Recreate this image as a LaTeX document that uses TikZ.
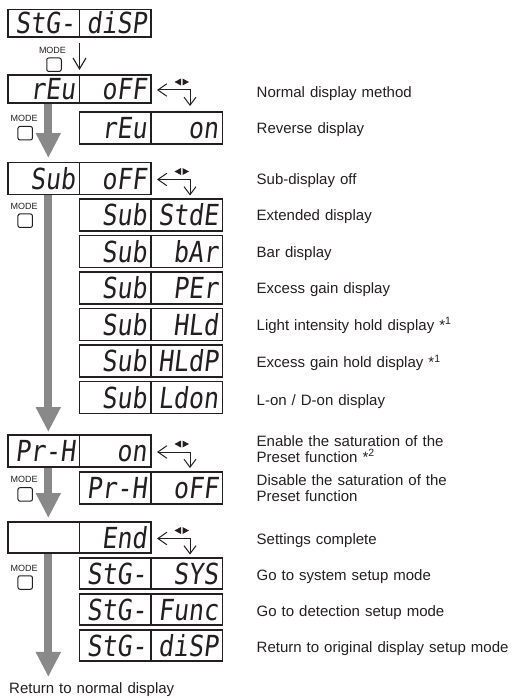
\documentclass[tikz,border=0pt]{standalone}
\usepackage{fontspec}
\setmainfont{Liberation Sans}
\newfontfamily\lcd{DejaVu Sans Mono}[FakeSlant=0.12,FakeStretch=0.86]
\usetikzlibrary{arrows.meta,positioning}
\definecolor{Ink}{HTML}{231F20}
\definecolor{Shaft}{HTML}{898989}

\begin{document}
\begin{tikzpicture}[
    x=1pt, y=-1pt,
    node distance=4.5pt and 0pt,
    seg/.style={
      draw=Ink, line width=1.1pt, outer sep=0pt,
      minimum width=71.5pt, minimum height=32pt,
      text width=63pt, align=right, inner xsep=4.25pt, inner ysep=0pt,
      text height=21pt, text depth=0pt, text=Ink,
      font=\lcd\fontsize{29}{30}\selectfont
    },
    lbl/.style={
      anchor=base west, inner sep=0pt, text width=300pt, align=left,
      text=Ink, font=\fontsize{15}{16.2}\selectfont
    },
    modetxt/.style={inner sep=0pt, text height=6.5pt, text depth=0pt, text=Ink, font=\fontsize{9}{9}\selectfont},
    modebtn/.style={draw=Ink, line width=1pt, rounded corners=2pt, minimum width=14.5pt, minimum height=13.5pt, inner sep=0pt},
    modearr/.style={draw=Shaft, line width=8pt, shorten <=0.6pt, -{Triangle[length=25pt,width=23.5pt]}},
    nextarr/.style={draw=Ink, line width=1.1pt, -{Straight Barb[length=11pt,width=13pt]}},
    selmark/.pic={
      \draw[Ink, line width=1pt, {Straight Barb[length=9pt,width=12.5pt]}-{Straight Barb[length=8pt,width=12pt]}]
        (6,1) -- (39,1) -- (39,17);
      \fill[Ink] (23.5,-7) -- (30,-10.5) -- (30,-3.5) -- cycle;
      \fill[Ink] (38,-7) -- (31.5,-10.5) -- (31.5,-3.5) -- cycle;
    }
  ]
    \useasboundingbox (0,0) rectangle (511,698);
    \coordinate (spine) at (48.3,0);

    \node[seg, minimum height=27.5pt, anchor=north west] (r1L) at (8,9.5) {StG-};
    \node[seg, minimum height=27.5pt, right=of r1L] (r1R) {diSP};

    \node[seg, minimum height=28pt, anchor=north west] (r2L) at (8,75) {rEu};
    \node[seg, minimum height=28pt, right=of r2L] (r2R) {oFF};
    \node[seg, below=9pt of r2R] (s2L) {rEu};
    \node[seg, right=of s2L] (s2R) {on};

    \node[seg, anchor=north west] (r3L) at (8,162.5) {Sub};
    \node[seg, right=of r3L] (r3R) {oFF};
    \node[seg, below=of r3R] (s3aL) {Sub};
    \node[seg, right=of s3aL] (s3aR) {StdE};
    \node[seg, below=of s3aL] (s3bL) {Sub};
    \node[seg, right=of s3bL] (s3bR) {bAr};
    \node[seg, below=of s3bL] (s3cL) {Sub};
    \node[seg, right=of s3cL] (s3cR) {PEr};
    \node[seg, below=of s3cL] (s3dL) {Sub};
    \node[seg, right=of s3dL] (s3dR) {HLd};
    \node[seg, below=of s3dL] (s3eL) {Sub};
    \node[seg, right=of s3eL] (s3eR) {HLdP};
    \node[seg, below=of s3eL] (s3fL) {Sub};
    \node[seg, right=of s3fL] (s3fR) {Ldon};

    \node[seg, anchor=north west] (r4L) at (8,435) {\mbox{Pr-H}};
    \node[seg, right=of r4L] (r4R) {on};
    \node[seg, below=5pt of r4R] (s4L) {\mbox{Pr-H}};
    \node[seg, right=of s4L] (s4R) {oFF};

    \node[seg, minimum height=31pt, anchor=north west] (r5L) at (8,522) {};
    \node[seg, minimum height=31pt, right=of r5L] (r5R) {End};
    \node[seg, minimum height=31pt, below=5pt of r5R] (s5aL) {StG-};
    \node[seg, minimum height=31pt, right=of s5aL] (s5aR) {SYS};
    \node[seg, minimum height=31pt, below=5pt of s5aL] (s5bL) {StG-};
    \node[seg, minimum height=31pt, right=of s5bL] (s5bR) {Func};
    \node[seg, minimum height=31pt, below=5pt of s5bL] (s5cL) {StG-};
    \node[seg, minimum height=31pt, right=of s5cL] (s5cR) {diSP};

    \node[modetxt] (m1) at (52.5,50) {MODE};
    \node[modebtn, below=4pt of m1, xshift=1.5pt] (b1) {};
    \node[modetxt] (m2) at (24.2,118.5) {MODE};
    \node[modebtn, below=4pt of m2, xshift=1pt] (b2) {};
    \node[modetxt] (m3) at (24.2,206) {MODE};
    \node[modebtn, below=4pt of m3, xshift=1pt] (b3) {};
    \node[modetxt] (m4) at (24.2,479.7) {MODE};
    \node[modebtn, below=4pt of m4, xshift=1pt] (b4) {};
    \node[modetxt] (m5) at (24.2,567.8) {MODE};
    \node[modebtn, below=4pt of m5, xshift=1pt] (b5) {};

    \pic at (r2R.east) {selmark};
    \pic at (r3R.east) {selmark};
    \pic at (r4R.east) {selmark};
    \pic at (r5R.east) {selmark};

    \node[lbl] (t2) at (256.5,97.3) {Normal display method};
    \node[lbl] (t2s) at (256.5,133.3) {Reverse display};
    \node[lbl] (t3) at (256.5,184) {Sub-display off};
    \node[lbl] (t3a) at (256.5,220.7) {Extended display};
    \node[lbl] (t3b) at (256.5,257.3) {Bar display};
    \node[lbl] (t3c) at (256.5,293.3) {Excess gain display};
    \node[lbl] (t3d) at (256.5,330) {Light intensity hold display *\textsuperscript{1}};
    \node[lbl] (t3e) at (256.5,367.3) {Excess gain hold display *\textsuperscript{1}};
    \node[lbl] (t3f) at (256.5,405) {L-on / D-on display};
    \node[lbl] (t4) at (256.5,446) {Enable the saturation of the\\Preset function *\textsuperscript{2}};
    \node[lbl] (t4s) at (256.5,485) {Disable the saturation of the\\Preset function};
    \node[lbl] (t5) at (256.5,544) {Settings complete};
    \node[lbl] (t5a) at (256.5,580.7) {Go to system setup mode};
    \node[lbl] (t5b) at (256.5,616.7) {Go to detection setup mode};
    \node[lbl] (t5c) at (256.5,652.7) {Return to original display setup mode};
    \node[lbl] (retn) at (9,693.5) {Return to normal display};

    \draw[nextarr, shorten <=6pt, shorten >=5pt] (r1L.south east) -- (r2L.north east);
    \draw[modearr, shorten >=4.5pt] (r2L.south -| spine) -- (r3L.north -| spine);
    \draw[modearr, shorten >=3pt] (r3L.south -| spine) -- (r4L.north -| spine);
    \draw[modearr, shorten >=4pt] (r4L.south -| spine) -- (r5L.north -| spine);
    \draw[modearr, shorten >=5.5pt] (r5L.south -| spine) -- (retn.north -| spine);
  \end{tikzpicture}
\end{document}
